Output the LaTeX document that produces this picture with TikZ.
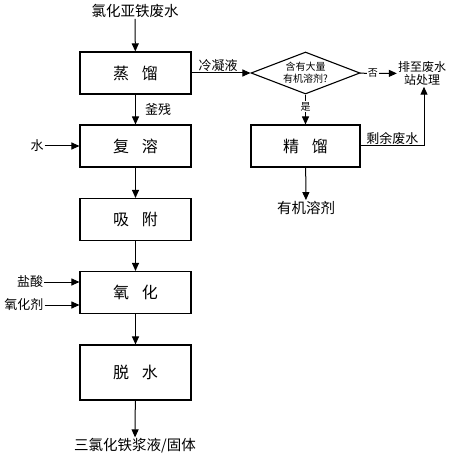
\documentclass[tikz,border=0pt]{standalone}
\usepackage{fontspec}
\setmainfont{Noto Sans CJK SC}
\usetikzlibrary{arrows.meta,shapes.geometric}
\tikzset{
    block/.style = {draw, rectangle, line width=1.1pt,
        minimum height=42pt,
        minimum width=111pt,
        font=\fontsize{16}{18}\selectfont},
    decide/.style = {draw, diamond, line width=1.1pt, aspect=2.6, inner sep=0pt,
        minimum width=109pt, minimum height=42pt, align=center,
        font=\fontsize{10}{12}\selectfont},
    txt/.style = {inner sep=1pt, font=\fontsize{13}{15}\selectfont},
    arrow/.style={draw, line width=1pt, -{Triangle[length=8pt,width=7pt]}},
    tag/.style = {fill=white, inner sep=1pt, font=\fontsize{10}{12}\selectfont}
}
\begin{document}
\begin{tikzpicture}[x=1pt,y=-1pt]
    \useasboundingbox (0,0) rectangle (450,457);
                \node[txt,font=\fontsize{14.5}{16}\selectfont] (feed) at (135,11) {氯化亚铁废水};
                \node[block] (distil) at (135.5,73) {蒸\hspace{0.8em}馏};
                \node[block] (redis) at (135.5,146) {复\hspace{0.8em}溶};
                \node[block] (adsorb) at (135.5,219.5) {吸\hspace{0.8em}附};
                \node[block] (oxid) at (135.5,292.5) {氧\hspace{0.8em}化};
                \node[block,minimum height=55pt] (dewat) at (135.5,372.5) {脱\hspace{0.8em}水};
                \node[txt,font=\fontsize{14.5}{16}\selectfont] (prod) at (135,446) {三氯化铁浆液/固体};
                \node[txt] (water) at (37,146) {水};
                \node[txt] (acid) at (30,282) {盐酸};
                \node[txt] (oxag) at (24,305) {氧化剂};
                \node[decide] (check) at (305.5,73) {含有大量\\有机溶剂?};
                \node[block,minimum width=109pt] (rect) at (305.5,146) {精\hspace{0.8em}馏};
                \node[txt,font=\fontsize{14.5}{16}\selectfont] (solv) at (306,208) {有机溶剂};
                \node[txt,align=center,font=\fontsize{12}{13}\selectfont] (plant) at (422,73.5) {排至废水\\站处理};
                \draw [arrow] (feed) -- (distil);
                \draw [arrow] (distil) -- node[txt,right,xshift=8pt] {釜残} (redis);
                \draw [arrow] (redis) -- (adsorb);
                \draw [arrow] (adsorb) -- (oxid);
                \draw [arrow] (oxid) -- (dewat);
                \draw [arrow] (dewat) -- (prod);
                \draw [arrow] (water) -- (redis);
                \draw [arrow] (acid.east) -- (acid.east -| oxid.west);
                \draw [arrow] (oxag.east) -- (oxag.east -| oxid.west);
                \draw [arrow] (distil) -- node[txt,above,pos=.45] {冷凝液} (check);
                \draw [arrow] (check) -- node[tag,pos=.35] {否} (plant);
                \draw [arrow] (check) -- node[tag,pos=.4] {是} (rect);
                \draw [arrow] (rect) -- (solv);
                \draw [arrow] (rect.east) -| node[txt,above,pos=.25] {剩余废水} ([xshift=2pt]plant.south);
            \end{tikzpicture}
\end{document}
